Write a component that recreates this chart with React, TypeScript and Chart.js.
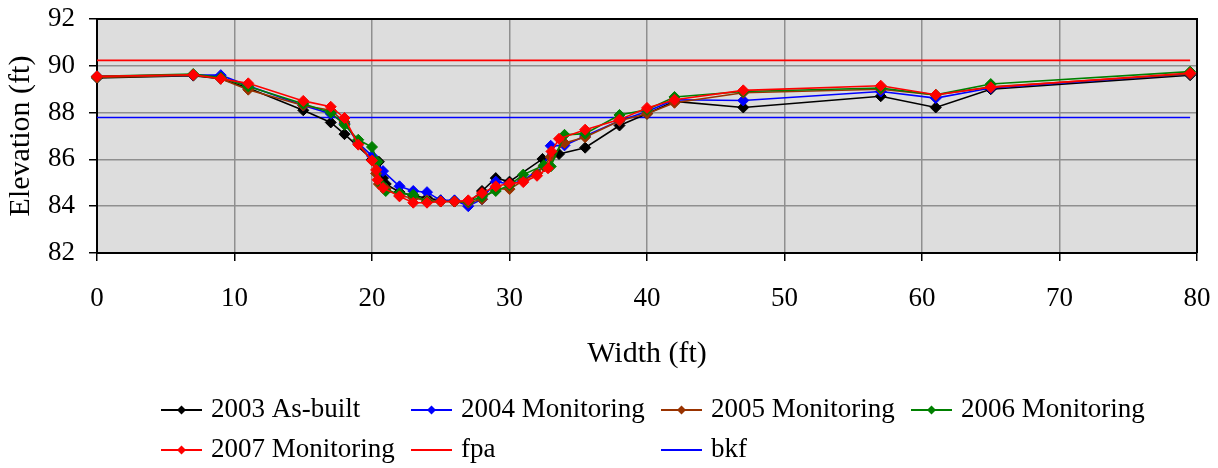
import React, { useEffect, useRef } from "react";
import { Chart, registerables } from "chart.js";

Chart.register(...registerables);

// ---- Data ----
const seriesLabels = ["2003 As-built", "2004 Monitoring", "2005 Monitoring", "2006 Monitoring", "2007 Monitoring"];
const seriesColors = ["#000000", "#0000FF", "#993300", "#008000", "#FF0000"];

const x2003 = [0, 7, 9, 11, 15, 17, 18, 20, 20.5, 20.8, 21, 22, 23, 24, 25, 26, 27, 28, 29, 30, 32.4, 33.6, 35.5, 38, 40, 42, 47, 57, 61, 65, 79.5];
const y2003 = [89.48, 89.58, 89.45, 89.05, 88.1, 87.58, 87.08, 86.0, 85.9, 85.2, 84.95, 84.6, 84.45, 84.35, 84.25, 84.2, 84.15, 84.65, 85.2, 85.05, 86.02, 86.23, 86.5, 87.45, 87.95, 88.48, 88.22, 88.7, 88.22, 89.0, 89.6];

const x2004 = [0, 7, 9, 11, 15, 17, 18, 19, 20, 20.8, 22, 23, 24, 25, 26, 27, 28, 29, 30, 31, 32.5, 33, 34, 35.5, 38, 40, 42, 47, 57, 61, 65, 79.5];
const y2004 = [89.55, 89.6, 89.6, 89.15, 88.3, 87.95, 87.55, 86.7, 86.15, 85.5, 84.85, 84.65, 84.6, 84.25, 84.25, 84.0, 84.3, 85.05, 84.95, 85.1, 85.7, 86.58, 86.6, 87.0, 87.65, 88.05, 88.55, 88.52, 88.9, 88.62, 89.05, 89.65];

const x2005 = [0, 7, 9, 11, 15, 17, 18, 19, 20, 20.3, 20.5, 21, 22, 23, 24, 25, 26, 27, 28, 29, 30, 31, 32, 32.5, 33, 34, 35.5, 38, 40, 42, 47, 57, 61, 65, 79.5];
const y2005 = [89.5, 89.6, 89.45, 88.98, 88.3, 88.1, 87.6, 86.7, 85.95, 85.4, 84.95, 84.75, 84.45, 84.35, 84.25, 84.2, 84.2, 84.15, 84.3, 84.75, 84.73, 85.1, 85.4, 85.7, 86.1, 86.7, 86.95, 87.65, 87.95, 88.42, 88.85, 89.0, 88.75, 89.1, 89.65];

const x2006 = [0, 7, 9, 11, 15, 17, 18, 19, 20, 20.4, 20.7, 21, 22, 23, 24, 25, 26, 27, 28, 29, 30, 31, 32.5, 33, 34, 35.5, 38, 40, 42, 47, 57, 61, 65, 79.5];
const y2006 = [89.55, 89.65, 89.5, 89.12, 88.38, 88.0, 87.48, 86.84, 86.53, 85.9, 84.92, 84.65, 84.55, 84.49, 84.2, 84.2, 84.2, 84.2, 84.4, 84.65, 84.9, 85.35, 85.75, 85.7, 87.05, 87.1, 87.9, 88.12, 88.67, 88.9, 89.05, 88.76, 89.22, 89.75];

const x2007 = [0, 7, 9, 11, 15, 17, 18, 19, 20, 20.3, 20.4, 20.8, 22, 23, 24, 25, 26, 27, 28, 29, 30, 31, 32, 32.8, 33.05, 33.6, 35.5, 38, 40, 42, 47, 57, 61, 65, 79.5];
const y2007 = [89.55, 89.62, 89.45, 89.25, 88.5, 88.25, 87.77, 86.63, 85.95, 85.55, 85.13, 84.78, 84.42, 84.15, 84.15, 84.2, 84.2, 84.25, 84.56, 84.85, 84.97, 85.03, 85.3, 85.62, 86.34, 86.88, 87.27, 87.7, 88.2, 88.55, 88.95, 89.15, 88.76, 89.08, 89.69];

const fpaX = [0, 79.5];
const fpaY = [90.23, 90.23];
const bkfX = [0, 79.5];
const bkfY = [87.79, 87.79];

const xMin = 0, xMax = 80, xStep = 10;
const yMin = 82, yMax = 92, yStep = 2;

const FONT = "'Liberation Serif', 'Times New Roman', serif";

const zip = (xs: number[], ys: number[]) => xs.map((x, i) => ({ x, y: ys[i] }));

const seriesX = [x2003, x2004, x2005, x2006, x2007];
const seriesY = [y2003, y2004, y2005, y2006, y2007];

const bgPlugin = {
  id: "plotBg",
  beforeDraw(chart: any) {
    const { ctx, chartArea: a } = chart;
    ctx.save();
    ctx.fillStyle = "#DDDDDD";
    ctx.fillRect(a.left, a.top, a.right - a.left, a.bottom - a.top);
    ctx.restore();
  },
  beforeDatasetsDraw(chart: any) {
    const { ctx, chartArea: a } = chart;
    ctx.save();
    ctx.strokeStyle = "#000";
    ctx.lineWidth = 2;
    ctx.beginPath();
    ctx.moveTo(a.left, a.top);
    ctx.lineTo(a.right, a.top);
    ctx.lineTo(a.right, a.bottom);
    ctx.stroke();
    ctx.restore();
  },
};

const legendPlugin = {
  id: "gridLegend",
  afterDraw(chart: any) {
    const { ctx } = chart;
    const items = chart.data.datasets.map((d: any) => ({
      label: d.label,
      color: d.borderColor,
      marker: d.pointRadius > 0,
    }));
    const startX = 161;
    const colW = 250;
    const rowY = [410, 450];
    ctx.save();
    ctx.font = `27px ${FONT}`;
    ctx.textBaseline = "middle";
    ctx.textAlign = "left";
    items.forEach((it: any, i: number) => {
      const col = i % 4;
      const row = Math.floor(i / 4);
      const x = startX + col * colW;
      const y = rowY[row];
      ctx.strokeStyle = it.color;
      ctx.lineWidth = 2;
      ctx.beginPath();
      ctx.moveTo(x, y);
      ctx.lineTo(x + 41, y);
      ctx.stroke();
      if (it.marker) {
        const r = 4.5;
        ctx.fillStyle = it.color;
        ctx.beginPath();
        ctx.moveTo(x + 20.5, y - r);
        ctx.lineTo(x + 20.5 + r, y);
        ctx.lineTo(x + 20.5, y + r);
        ctx.lineTo(x + 20.5 - r, y);
        ctx.closePath();
        ctx.fill();
      }
      ctx.fillStyle = "#000";
      ctx.fillText(it.label, x + 50, y);
    });
    ctx.restore();
  },
};

const zeroPad = (scale: any) => {
  scale.paddingTop = 0;
  scale.paddingBottom = 0;
  scale.paddingLeft = 0;
  scale.paddingRight = 0;
};

export default function App() {
  const ref = useRef<HTMLCanvasElement | null>(null);

  useEffect(() => {
    if (!ref.current) return;
    const datasets: any[] = seriesLabels.map((label, i) => ({
      label,
      data: zip(seriesX[i], seriesY[i]),
      borderColor: seriesColors[i],
      backgroundColor: seriesColors[i],
      borderWidth: 1.6,
      pointStyle: "rectRot",
      pointRadius: 5.5,
      pointBorderWidth: 1,
      pointBorderColor: seriesColors[i],
      pointBackgroundColor: seriesColors[i],
      tension: 0,
      clip: false,
      order: 5 - i,
    }));
    datasets.push({
      label: "fpa",
      data: zip(fpaX, fpaY),
      borderColor: "#FF0000",
      backgroundColor: "#FF0000",
      borderWidth: 1.6,
      pointRadius: 0,
      order: 10,
    });
    datasets.push({
      label: "bkf",
      data: zip(bkfX, bkfY),
      borderColor: "#0000FF",
      backgroundColor: "#0000FF",
      borderWidth: 1.6,
      pointRadius: 0,
      order: 11,
    });

    const chart = new Chart(ref.current, {
      type: "line",
      data: { datasets },
      options: {
        animation: false,
        responsive: false,
        maintainAspectRatio: false,
        layout: { padding: { left: 0, right: 21, top: 19, bottom: 0 } },
        plugins: {
          legend: { display: false },
          tooltip: { enabled: false },
        },
        scales: {
          x: {
            type: "linear",
            min: xMin,
            max: xMax,
            afterFit(scale: any) {
              scale.height = 215;
              zeroPad(scale);
            },
            ticks: {
              stepSize: xStep,
              color: "#000",
              padding: 22,
              font: { family: FONT, size: 27 },
              maxRotation: 0,
            },
            grid: {
              color: "#8f8f8f",
              lineWidth: 1.5,
              tickLength: 8,
              tickColor: "#000",
            },
            border: { color: "#000", width: 2 },
            title: {
              display: true,
              text: "Width (ft)",
              color: "#000",
              font: { family: FONT, size: 30 },
              padding: { top: 0, bottom: 96 },
            },
          },
          y: {
            type: "linear",
            min: yMin,
            max: yMax,
            afterFit(scale: any) {
              scale.width = 97;
              zeroPad(scale);
            },
            ticks: {
              stepSize: yStep,
              color: "#000",
              padding: 14,
              font: { family: FONT, size: 27 },
            },
            grid: {
              color: "#8f8f8f",
              lineWidth: 1.5,
              tickLength: 8,
              tickColor: "#000",
            },
            border: { color: "#000", width: 2 },
            title: {
              display: true,
              text: "Elevation (ft)",
              color: "#000",
              font: { family: FONT, size: 30 },
              padding: { top: 3, bottom: 0 },
            },
          },
        },
      },
      plugins: [bgPlugin, legendPlugin],
    });
    return () => chart.destroy();
  }, []);

  return (
    <div style={{ position: "fixed", left: 0, top: 0, width: 1218, height: 468, background: "#fff" }}>
      <canvas ref={ref} width={1218} height={468} style={{ display: "block" }} />
    </div>
  );
}
